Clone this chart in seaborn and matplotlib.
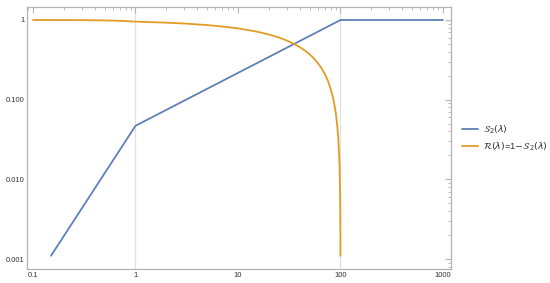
import seaborn as sns
import matplotlib.pyplot as plt
import matplotlib.ticker as mticker
import pandas as pd
import numpy as np

# S2 polyline vertices
s2_lam = [0.15, 1.0, 100.0, 1000.0]
s2_val = [0.0011, 0.047, 1.0, 1.0]

# R = 1 - S2 curve
r_lam = [0.1, 0.2, 0.3, 0.5, 0.7, 1.0, 2.0, 3.0, 5.0, 7.0, 10.0, 15.0, 20.0, 25.0,
         30.0, 35.0, 40.0, 45.0, 50.0, 55.0, 60.0, 65.0, 70.0, 75.0, 80.0, 85.0,
         90.0, 93.0, 95.0, 97.0, 98.0, 99.0, 99.5, 99.8, 99.9]
r_val = [0.9995, 0.998, 0.996, 0.988, 0.977, 0.954, 0.926, 0.903, 0.864, 0.829,
         0.785, 0.718, 0.658, 0.603, 0.552, 0.503, 0.457, 0.413, 0.370, 0.329,
         0.289, 0.250, 0.212, 0.175, 0.138, 0.103, 0.068, 0.047, 0.034, 0.020,
         0.014, 0.0070, 0.0040, 0.0020, 0.0011]

blue = '#5E81B5'
orange = '#E19C24'
frame = '#b4b4b4'

sns.set_style('white')
plt.rcParams['font.family'] = ['Liberation Sans', 'DejaVu Sans']
plt.rcParams['mathtext.fontset'] = 'dejavusans'

df = pd.concat([
    pd.DataFrame({'lam': s2_lam, 'val': s2_val, 'serie': r'$\mathcal{S}_2(\lambda)$'}),
    pd.DataFrame({'lam': r_lam, 'val': r_val,
                  'serie': r'$\mathcal{R}(\lambda)$=1$-$$\mathcal{S}_2(\lambda)$'}),
])

fig = plt.figure(figsize=(5.5, 2.83), dpi=100)
ax = fig.add_axes([27 / 550, 1 - 269 / 283, 424 / 550, 262 / 283])

sns.lineplot(data=df, x='lam', y='val', hue='serie', palette=[blue, orange],
             sort=False, estimator=None, linewidth=1.3, ax=ax)

ax.set_xscale('log')
ax.set_yscale('log')
ax.set_xlim(0.0874, 1197)
ax.set_ylim(0.000749, 1.456)

# vertical grid lines
for gx in [1, 100]:
    ax.axvline(gx, color='#e0e0e0', linewidth=0.9, zorder=0)

ax.xaxis.set_major_locator(mticker.FixedLocator([0.1, 1, 10, 100, 1000]))
ax.xaxis.set_major_formatter(mticker.FixedFormatter(['0.1', '1', '10', '100', '1000']))
ax.yaxis.set_major_locator(mticker.FixedLocator([0.001, 0.01, 0.1, 1]))
ax.yaxis.set_major_formatter(mticker.FixedFormatter(['0.001', '0.010', '0.100', '1']))
ax.xaxis.set_minor_locator(mticker.LogLocator(base=10, subs=np.arange(2, 10)))
ax.yaxis.set_minor_locator(mticker.LogLocator(base=10, subs=np.arange(2, 10)))
ax.xaxis.set_minor_formatter(mticker.NullFormatter())
ax.yaxis.set_minor_formatter(mticker.NullFormatter())

ax.tick_params(which='both', direction='in', top=True, right=True, color=frame,
               labelsize=5.5, labelcolor='#333333', pad=2)
ax.tick_params(which='major', length=4, width=0.8)
ax.tick_params(which='minor', length=2, width=0.6)
for sp in ax.spines.values():
    sp.set_color(frame)
    sp.set_linewidth(0.9)

ax.set_xlabel('')
ax.set_ylabel('')

leg = ax.legend(loc='center left', bbox_to_anchor=(1.026, 0.5), frameon=False,
                fontsize=6.8, handlelength=1.7, handletextpad=0.5, labelspacing=0.5,
                borderaxespad=0, borderpad=0)
for t in leg.get_texts():
    t.set_color('#333333')

fig.savefig('out.png', dpi=100)
